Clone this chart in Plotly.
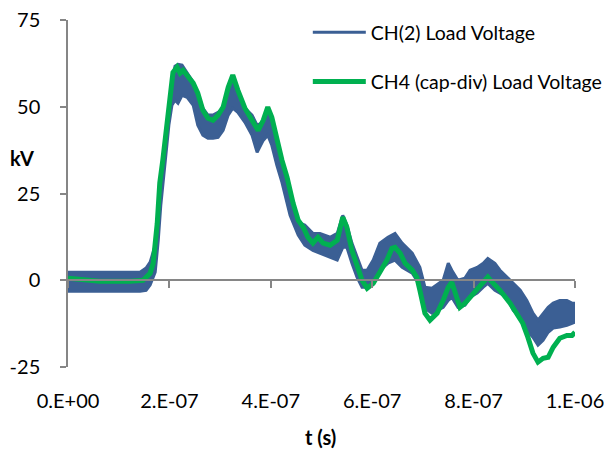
import plotly.graph_objects as go

# ---- data (time in seconds, voltage in kV) ----
green_t = [0, 0.63, 1.22, 1.48, 1.62, 1.68, 1.76, 1.81, 1.87, 1.95, 2.01, 2.07, 2.15, 2.21, 2.27,
           2.37, 2.47, 2.56, 2.66, 2.76, 2.86, 2.96, 3.06, 3.16, 3.25, 3.35, 3.49, 3.63, 3.75, 3.85,
           3.94, 4.02, 4.12, 4.22, 4.32, 4.38, 4.44, 4.54, 4.64, 4.73, 4.83, 4.93, 5.03, 5.17, 5.31,
           5.42, 5.50, 5.60, 5.70, 5.80, 5.90, 6.02, 6.15, 6.29, 6.39, 6.45, 6.55, 6.65, 6.79, 6.88,
           6.94, 7.04, 7.14, 7.28, 7.40, 7.50, 7.57, 7.63, 7.73, 7.83, 7.93, 8.07, 8.19, 8.28, 8.42,
           8.52, 8.72, 8.86, 8.97, 9.07, 9.17, 9.27, 9.37, 9.47, 9.57, 9.70, 9.84, 9.94, 10.0]
green_v = [0.6, -0.3, -0.3, 0.0, 2.0, 4.9, 16.4, 28.0, 34.6, 45.2, 52.7, 59.9, 61.4, 59.7, 60.5,
           58.5, 56.8, 53.9, 49.0, 46.7, 46.1, 47.6, 49.9, 55.6, 59.1, 54.8, 49.6, 46.1, 43.2, 46.1,
           49.9, 47.0, 40.3, 34.6, 29.7, 25.1, 22.2, 17.3, 15.3, 12.4, 10.7, 12.4, 10.7, 10.1, 11.5,
           18.2, 15.3, 8.6, 3.7, 0.0, -2.3, -0.9, 2.3, 5.8, 9.2, 9.5, 7.8, 4.9, 2.9, 0.9,
           -2.9, -9.5, -11.5, -9.5, -5.8, -2.0, -0.6, -3.5, -7.8, -6.6, -4.9, -2.9, -0.6, 0.9, -1.4,
           -2.9, -6.6, -10.1, -12.4, -16.4, -21.0, -23.6, -22.5, -22.2, -19.3, -16.7, -15.9, -15.9, -15.0]

blue_t = [0, 0.63, 1.42, 1.54, 1.62, 1.72, 1.78, 1.83, 1.91, 1.99, 2.05, 2.11, 2.17, 2.25, 2.35,
          2.47, 2.56, 2.66, 2.76, 2.86, 2.96, 3.06, 3.16, 3.25, 3.35, 3.49, 3.63, 3.73, 3.85, 3.94,
          4.02, 4.12, 4.22, 4.38, 4.54, 4.67, 4.83, 4.97, 5.17, 5.31, 5.42, 5.50, 5.60, 5.70, 5.80,
          5.90, 6.02, 6.15, 6.31, 6.45, 6.59, 6.79, 6.94, 7.04, 7.18, 7.40, 7.50, 7.57, 7.69, 7.83,
          7.93, 8.07, 8.19, 8.28, 8.42, 8.52, 8.66, 8.78, 8.92, 9.05, 9.17, 9.27, 9.37, 9.47, 9.57,
          9.70, 9.84, 9.94, 10.0]
blue_upper = [2.3, 2.3, 2.3, 3.5, 5.2, 10.1, 15.9, 25.9, 37.5, 50.4, 57.6, 61.7, 62.2, 62.0, 59.9,
              57.1, 53.3, 49.6, 47.6, 47.6, 48.4, 49.6, 54.2, 57.1, 54.2, 49.6, 47.6, 44.7, 45.5, 48.4,
              45.5, 38.9, 34.0, 24.5, 16.7, 15.9, 13.5, 13.5, 12.4, 13.5, 18.7, 15.9, 10.7, 6.6, 2.9,
              2.9, 5.8, 10.7, 12.4, 13.5, 10.7, 7.8, 3.7, -2.0, -2.3, 0.0, 4.9, 2.9, 0.0, 0.6,
              2.9, 3.7, 4.9, 6.3, 4.9, 2.9, 0.9, -0.9, -2.9, -5.8, -9.5, -11.5, -9.5, -7.8, -6.6,
              -5.8, -5.8, -6.6, -6.6]
blue_lower = [-3.2, -3.2, -3.2, -2.9, -1.4, 2.3, 11.5, 21.6, 32.3, 44.7, 50.4, 51.9, 51.0, 53.3, 52.7,
              50.4, 44.7, 41.8, 40.9, 40.9, 41.2, 43.2, 47.6, 49.6, 48.4, 45.5, 41.8, 36.9, 40.3, 41.8,
              38.9, 33.1, 28.2, 18.7, 13.0, 10.1, 8.6, 7.8, 6.6, 5.8, 9.5, 9.5, 4.9, 0.9, -2.0,
              -2.0, 0.0, 2.9, 4.9, 5.8, 3.7, 2.0, -1.4, -8.1, -9.5, -7.8, -5.8, -4.9, -7.8, -7.2,
              -4.9, -3.7, -2.0, -0.9, -2.9, -3.7, -4.9, -8.6, -10.7, -14.4, -16.4, -18.7, -17.3, -15.0, -13.8,
              -13.5, -13.0, -12.4, -12.1]

x_tick_vals = [0, 2e-7, 4e-7, 6e-7, 8e-7, 1e-6]
x_tick_text = ["0.E+00", "2.E-07", "4.E-07", "6.E-07", "8.E-07", "1.E-06"]
y_tick_vals = [-25, 0, 25, 50, 75]
y_tick_text = ["-25", "0", "25", "50", "75"]

SCALE = 1e-7
BLUE = "#3B5F94"
GREEN = "#00B050"
GRAY = "#868686"
FONT = "Lato"
FS = 20
LFS = 19.5

gt = [t * SCALE for t in green_t]
bt = [t * SCALE for t in blue_t]

fig = go.Figure()
fig.add_trace(go.Scatter(x=bt, y=blue_lower, mode="lines", name="CH(2) Load Voltage",
                         line=dict(color=BLUE, width=3), legendgroup="a"))
fig.add_trace(go.Scatter(x=bt, y=blue_upper, mode="lines", fill="tonexty", fillcolor=BLUE,
                         line=dict(color=BLUE, width=3), showlegend=False, legendgroup="a"))
fig.add_trace(go.Scatter(x=gt, y=green_v, mode="lines", name="CH4 (cap-div) Load Voltage",
                         line=dict(color=GREEN, width=5), xaxis="x2", legendgroup="b"))

fig.update_layout(
    width=604, height=453,
    margin=dict(l=68, r=29, t=20, b=86, autoexpand=False),
    paper_bgcolor="white", plot_bgcolor="white",
    font=dict(family=FONT, size=FS, color="black"),
    showlegend=True,
    legend=dict(x=0.473, y=1.02, xanchor="left", yanchor="top",
                bgcolor="rgba(0,0,0,0)", font=dict(size=LFS, family=FONT),
                traceorder="grouped", tracegroupgap=21, itemwidth=53),
    xaxis=dict(range=[0, 1e-6], tickvals=x_tick_vals, ticktext=x_tick_text,
               showline=False, ticks="", showgrid=False, zeroline=False,
               ticklabelstandoff=20, ticklabeloverflow="allow",
               tickfont=dict(size=FS, family=FONT)),
    xaxis2=dict(range=[0, 1e-6], overlaying="x", anchor="free", position=0.25,
                tickvals=x_tick_vals, showticklabels=False, showline=True,
                linecolor=GRAY, linewidth=1.5, ticks="outside", ticklen=7,
                tickcolor=GRAY, tickwidth=1.5, showgrid=False, zeroline=False),
    yaxis=dict(range=[-25, 75], tickvals=y_tick_vals, ticktext=y_tick_text, showline=True,
               linecolor=GRAY, linewidth=1.5, ticks="outside", ticklen=6, tickcolor=GRAY,
               tickwidth=1.5, showgrid=False, zeroline=False, ticklabelstandoff=16,
               tickfont=dict(size=FS, family=FONT)),
    annotations=[
        dict(text="<b>kV</b>", xref="paper", yref="paper", x=-0.0907, y=0.602,
             xanchor="center", yanchor="middle",
             showarrow=False, font=dict(size=FS, family=FONT)),
        dict(text="<b>t (s)</b>", xref="paper", yref="paper", x=0.499, y=-0.2017,
             xanchor="center", yanchor="middle",
             showarrow=False, font=dict(size=FS, family=FONT)),
    ],
)

fig.write_html("out.html")
